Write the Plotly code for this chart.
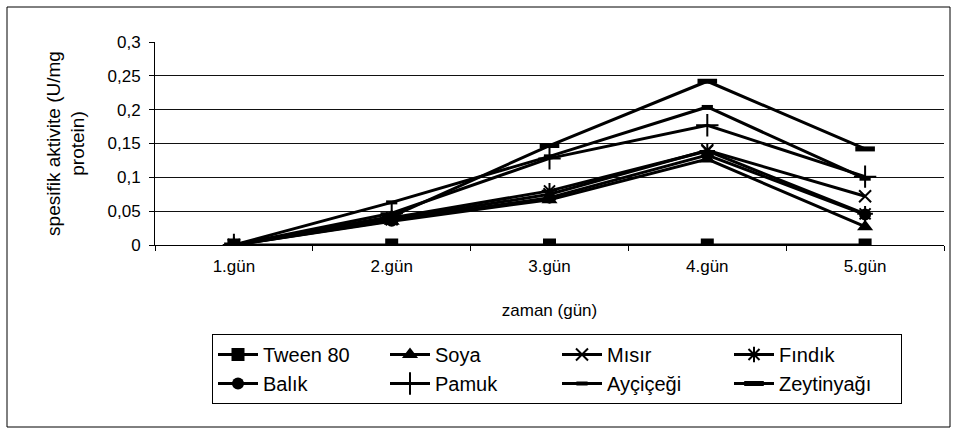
import plotly.graph_objects as go

days = ["1.gün", "2.gün", "3.gün", "4.gün", "5.gün"]
tween80 = [0, 0, 0, 0, 0]
soya = [0, 0.035, 0.067, 0.127, 0.027]
misir = [0, 0.038, 0.075, 0.140, 0.072]
findik = [0, 0.040, 0.080, 0.139, 0.046]
balik = [0, 0.036, 0.070, 0.133, 0.045]
pamuk = [0, 0.047, 0.128, 0.177, 0.101]
aycicegi = [0, 0.063, 0.131, 0.204, 0.098]
zeytinyagi = [0, 0.042, 0.147, 0.242, 0.142]

y_tickvals = [0, 0.05, 0.1, 0.15, 0.2, 0.25, 0.3]
y_ticktext = ["0", "0,05", "0,1", "0,15", "0,2", "0,25", "0,3"]

FONT = "Liberation Sans, Arial, sans-serif"

series = [
    ("Tween 80", tween80, dict(symbol="square", size=13, color="black")),
    ("Soya", soya, dict(symbol="triangle-up", size=14, color="black")),
    ("Mısır", misir, dict(symbol="x-thin-open", size=12, color="black", line=dict(color="black", width=2))),
    ("Fındık", findik, dict(symbol="asterisk-open", size=13, color="black", line=dict(color="black", width=2))),
    ("Balık", balik, dict(symbol="circle", size=12, color="black")),
    ("Pamuk", pamuk, dict(symbol="cross-thin-open", size=16, color="black", line=dict(color="black", width=2))),
    ("Ayçiçeği", aycicegi, dict(symbol="line-ew-open", size=8, color="black", line=dict(color="black", width=4))),
    ("Zeytinyağı", zeytinyagi, dict(symbol="line-ew-open", size=14, color="black", line=dict(color="black", width=5))),
]

fig = go.Figure()
for name, vals, mk in series:
    fig.add_trace(go.Scatter(
        x=days, y=vals, name=name, mode="lines+markers",
        line=dict(color="black", width=3), marker=mk,
    ))

# plot area pixel geometry
W, H = 954, 432
L, R, T, B = 155, 944, 42, 245
pw, ph = R - L, B - T

def px(x):
    return (x - L) / pw

def py(y):
    return (B - y) / ph

fig.update_layout(
    width=W, height=H,
    margin=dict(l=L, r=W - R, t=T, b=H - B, pad=0),
    paper_bgcolor="white", plot_bgcolor="white",
    font=dict(family=FONT, size=17, color="black"),
    showlegend=True,
    legend=dict(
        orientation="h", x=px(212), y=py(334), xanchor="left", yanchor="top",
        bordercolor="black", borderwidth=1, bgcolor="white",
        entrywidth=117, entrywidthmode="pixels",
        font=dict(family=FONT, size=20, color="black"),
        itemwidth=40,
    ),
    xaxis=dict(
        type="category", showgrid=False, showline=True, linecolor="black", linewidth=1,
        ticks="outside", ticklen=5, tickcolor="black", tickson="boundaries",
        ticklabelstandoff=6,
        title=dict(text="zaman (gün)", font=dict(size=17), standoff=28),
        tickfont=dict(size=17), range=[-0.5, 4.5], zeroline=False,
    ),
    yaxis=dict(
        range=[0, 0.3], tickvals=y_tickvals, ticktext=y_ticktext,
        showgrid=True, gridcolor="#111111", gridwidth=1,
        showline=True, linecolor="black", linewidth=1,
        ticks="outside", ticklen=5, tickcolor="black", zeroline=False,
        ticklabelstandoff=5,
        title=dict(text="spesifik aktivite (U/mg<br>protein)", font=dict(size=19), standoff=17),
        tickfont=dict(size=17),
    ),
    shapes=[dict(
        type="rect", xref="paper", yref="paper",
        x0=px(7), x1=px(950), y0=py(427), y1=py(7),
        line=dict(color="black", width=1), fillcolor="rgba(0,0,0,0)", layer="below",
    )],
)

fig.write_html("out.html")
